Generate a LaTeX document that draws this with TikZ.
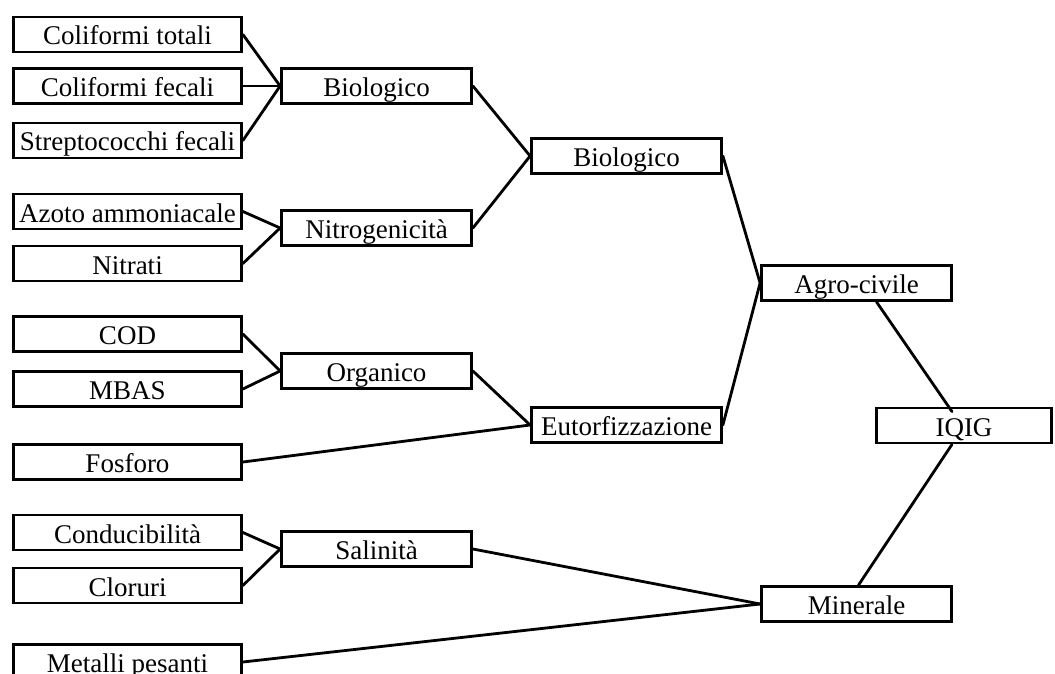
\documentclass[tikz,border=0pt]{standalone}
\usepackage{fontspec}
\setmainfont{Liberation Serif}
\usetikzlibrary{calc}
\begin{document}
\begin{tikzpicture}[x=1pt,y=-1pt,
  box/.style={draw=black,line width=2.8pt,rectangle,inner sep=0pt,minimum height=35pt,
    font=\fontsize{27}{30}\selectfont,text height=24pt,text depth=3pt},
  leaf/.style={box,minimum width=228pt},
  mid/.style={box,minimum width=190pt},
  conn/.style={line width=2.8pt,line cap=round}]
\useasboundingbox (0,0) rectangle (1055,674);
% left column
\node[leaf] (ct) at (127.5,34.5) {Coliformi totali};
\node[leaf] (cf) at (127.5,86) {Coliformi fecali};
\node[leaf] (sf) at (127.5,140.5) {Streptococchi fecali};
\node[leaf] (az) at (127.5,211.5) {Azoto ammoniacale};
\node[leaf] (ni) at (127.5,263.5) {Nitrati};
\node[leaf] (cod) at (127.5,334) {COD};
\node[leaf] (mb) at (127.5,389) {MBAS};
\node[leaf] (fo) at (127.5,462) {Fosforo};
\node[leaf] (co) at (127.5,532.5) {Conducibilità};
\node[leaf] (cl) at (127.5,585.5) {Cloruri};
\node[leaf] (me) at (127.5,662) {Metalli pesanti};
% second column
\node[mid] (bio1) at (376.5,86) {Biologico};
\node[mid] (nit) at (376.5,228) {Nitrogenicità};
\node[mid] (org) at (376.5,371) {Organico};
\node[mid] (sal) at (376.5,549) {Salinità};
% third column
\node[mid] (bio2) at (626.5,156) {Biologico};
\node[mid] (eut) at (626.5,425) {Eutorfizzazione};
% fourth column
\node[mid] (agro) at (856.5,283) {Agro-civile};
\node[mid] (min) at (856.5,604) {Minerale};
% IQIG
\node[box,minimum width=175pt] (iqig) at (964,425.5) {IQIG};
% connectors
\draw[conn] (ct.east) -- (bio1.west);
\draw[conn] (cf.east) -- (bio1.west);
\draw[conn] (sf.east) -- (bio1.west);
\draw[conn] (az.east) -- (nit.west);
\draw[conn] (ni.east) -- (nit.west);
\draw[conn] (cod.east) -- (org.west);
\draw[conn] (mb.east) -- (org.west);
\draw[conn] (co.east) -- (sal.west);
\draw[conn] (cl.east) -- (sal.west);
\draw[conn] (bio1.east) -- (bio2.west);
\draw[conn] (nit.east) -- (bio2.west);
\draw[conn] (org.east) -- (eut.west);
\draw[conn] (fo.east) -- (eut.west);
\draw[conn] (bio2.east) -- (agro.west);
\draw[conn] (eut.east) -- (agro.west);
\draw[conn] (sal.east) -- (min.west);
\draw[conn] (me.east) -- (min.west);
\draw[conn] ($(agro.south)+(20,0)$) -- ($(iqig.north)+(-12,5)$);
\draw[conn] ($(min.north)+(2,0)$) -- ($(iqig.south)+(-12,0)$);
\end{tikzpicture}
\end{document}
